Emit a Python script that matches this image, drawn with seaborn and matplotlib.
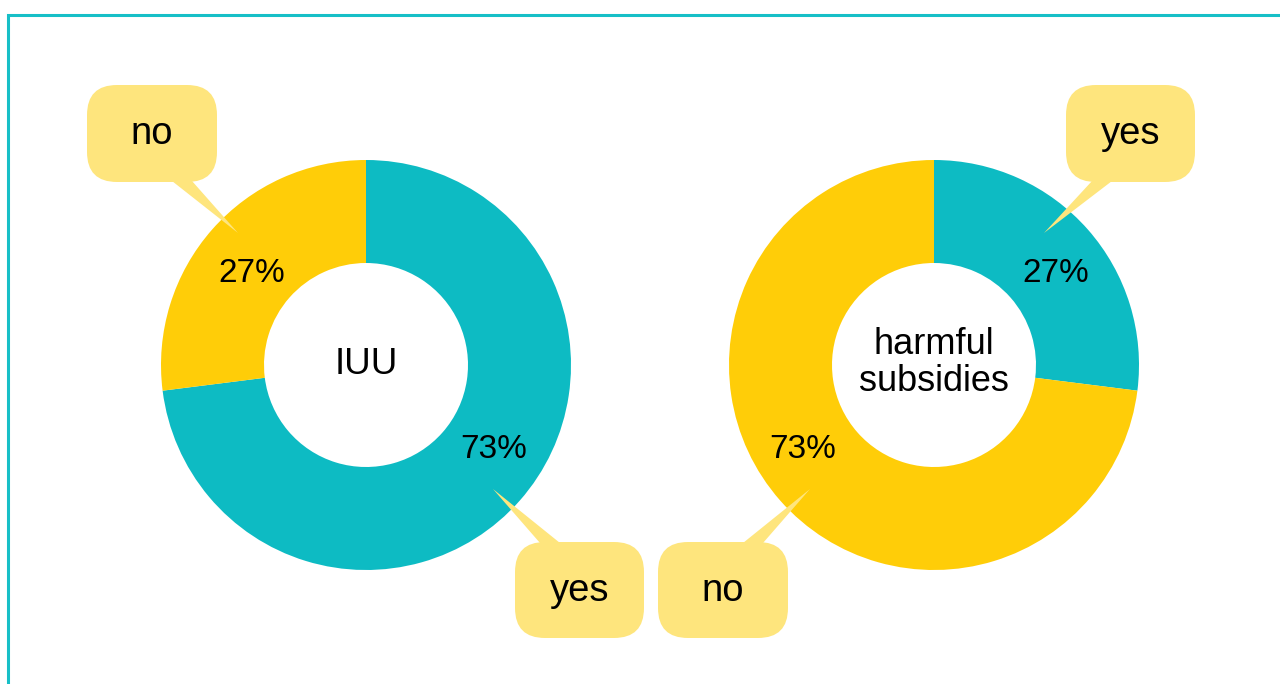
import matplotlib
matplotlib.use("Agg")
import matplotlib.pyplot as plt
import seaborn as sns
from matplotlib.patches import FancyBboxPatch, Polygon, Rectangle

# ---- data ----
charts = ["IUU", "harmful\nsubsidies"]
categories = ["yes", "no"]
iuu_values = [73, 27]
subsidies_values = [27, 73]
pct_labels_iuu = ["73%", "27%"]
pct_labels_subsidies = ["27%", "73%"]

sns.set_theme(style="white")
plt.rcParams["font.family"] = ["Liberation Sans", "DejaVu Sans"]

TEAL = "#0DBBC3"
YELLOW = "#FFCD08"
CALLOUT = "#FEE57D"
BORDER = "#17BFC7"
palette = sns.color_palette([TEAL, YELLOW])

W, H = 1280, 684
fig = plt.figure(figsize=(12.8, 6.84), dpi=100)
ax = fig.add_axes([0, 0, 1, 1])


def Y(py):
    return H - py


R_OUT, R_IN = 205, 102
centers = [(366, 365), (934, 365)]
values = [iuu_values, subsidies_values]

for (cx, cy), vals in zip(centers, values):
    ax.pie(vals, colors=palette, startangle=90, counterclock=False,
           radius=R_OUT, center=(cx, Y(cy)),
           wedgeprops=dict(width=R_OUT - R_IN, linewidth=0))

ax.set_xlim(0, W)
ax.set_ylim(0, H)
ax.set_aspect("equal")
ax.axis("off")

# centre labels
ax.text(366, Y(365), charts[0], ha="center", va="center", fontsize=26.5, color="black")
ax.text(934, Y(363), charts[1], ha="center", va="center", fontsize=26,
        linespacing=1.05, color="black")

# percentage labels
pct_pos_iuu = [(494, 449), (252, 274)]
pct_pos_sub = [(1056, 274), (803, 449)]
for lab, (px, py) in zip(pct_labels_iuu, pct_pos_iuu):
    ax.text(px, Y(py), lab, ha="center", va="center", fontsize=24, color="black")
for lab, (px, py) in zip(pct_labels_subsidies, pct_pos_sub):
    ax.text(px, Y(py), lab, ha="center", va="center", fontsize=24, color="black")

# callouts: (box x0, y0, x1, y1), pointer base (xa, xb, y), tip, text
callouts = [
    ((87, 85, 217, 182), (172, 192, 181), (238, 233), categories[1]),
    ((1066, 85, 1195, 182), (1092, 1112, 181), (1044, 233), categories[0]),
    ((515, 542, 644, 638), (540, 560, 543), (493, 489), categories[0]),
    ((658, 542, 788, 638), (743, 763, 543), (810, 489), categories[1]),
]
for (x0, y0, x1, y1), (xa, xb, yb), (tx, ty), lab in callouts:
    poly = Polygon([(xa, Y(yb)), (xb, Y(yb)), (tx, Y(ty))], closed=True,
                   facecolor=CALLOUT, edgecolor="none", zorder=5)
    ax.add_patch(poly)
    box = FancyBboxPatch((x0, Y(y1)), x1 - x0, y1 - y0,
                         boxstyle="round,pad=0,rounding_size=30",
                         facecolor=CALLOUT, edgecolor="none", zorder=6)
    ax.add_patch(box)
    ax.text((x0 + x1) / 2, Y((y0 + y1) / 2 + 1), lab, ha="center", va="center",
            fontsize=27.5, color="black", zorder=7)

# frame border
ax.add_patch(Rectangle((8, Y(700)), 1300, 700 - 15, facecolor="none",
                       edgecolor=BORDER, linewidth=2.2, zorder=8, clip_on=True))

fig.savefig("out.png", dpi=100)
